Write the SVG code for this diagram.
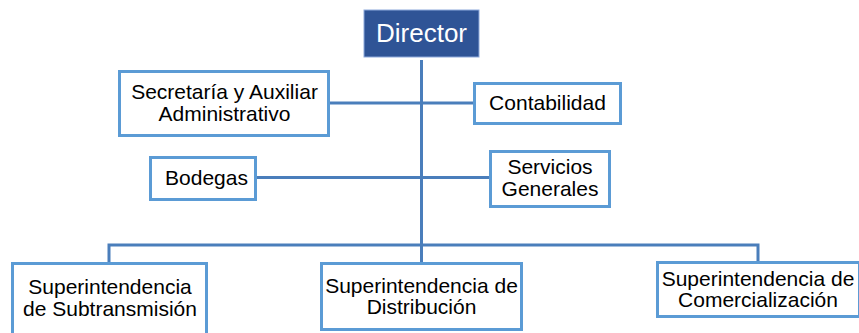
<svg xmlns="http://www.w3.org/2000/svg" width="859" height="333" viewBox="0 0 859 333">
<style>
.box{fill:#fff;stroke:#5B9BD5;stroke-width:3}
.t{font-family:"Liberation Sans",Arial,sans-serif;font-size:21px;fill:#000;text-anchor:middle}
.c{fill:none;stroke:#4A7EBB;stroke-width:3}
</style>
<rect width="859" height="333" fill="#fff"/>
<g id="connectors">
<path class="c" d="M421.5 60V262"/>
<path class="c" d="M330 103H473"/>
<path class="c" d="M257 177.5H489"/>
<path class="c" d="M109 262V245H758V261"/>
</g>
<g id="director">
<rect x="364" y="10" width="115" height="47" fill="#2F5496" stroke="#8EA9DB" stroke-width="1"/>
<text class="t" x="421.5" y="42" style="font-size:26px;fill:#fff">Director</text>
</g>
<g id="secretaria">
<rect class="box" x="119.5" y="71.5" width="209" height="64"/>
<text class="t" x="224.5" y="99">Secretaría y Auxiliar</text>
<text class="t" x="224.5" y="121">Administrativo</text>
</g>
<g id="contabilidad">
<rect class="box" x="474.5" y="83.5" width="146" height="40"/>
<text class="t" x="547.5" y="110">Contabilidad</text>
</g>
<g id="bodegas">
<rect class="box" x="150.5" y="157.5" width="105" height="42"/>
<text class="t" x="206.5" y="185">Bodegas</text>
</g>
<g id="servicios">
<rect class="box" x="490.5" y="151.5" width="119" height="55"/>
<text class="t" x="550" y="174">Servicios</text>
<text class="t" x="550" y="196">Generales</text>
</g>
<g id="subtransmision">
<rect class="box" x="12.5" y="263.5" width="194" height="90"/>
<text class="t" x="110" y="294">Superintendencia</text>
<text class="t" x="110" y="316">de Subtransmisión</text>
</g>
<g id="distribucion">
<rect class="box" x="321.5" y="263.5" width="200" height="66"/>
<text class="t" x="421.5" y="293">Superintendencia de</text>
<text class="t" x="421.5" y="314">Distribución</text>
</g>
<g id="comercializacion">
<rect class="box" x="657.5" y="262.5" width="202" height="54"/>
<text class="t" x="758" y="286">Superintendencia de</text>
<text class="t" x="758" y="307">Comercialización</text>
</g>
</svg>
